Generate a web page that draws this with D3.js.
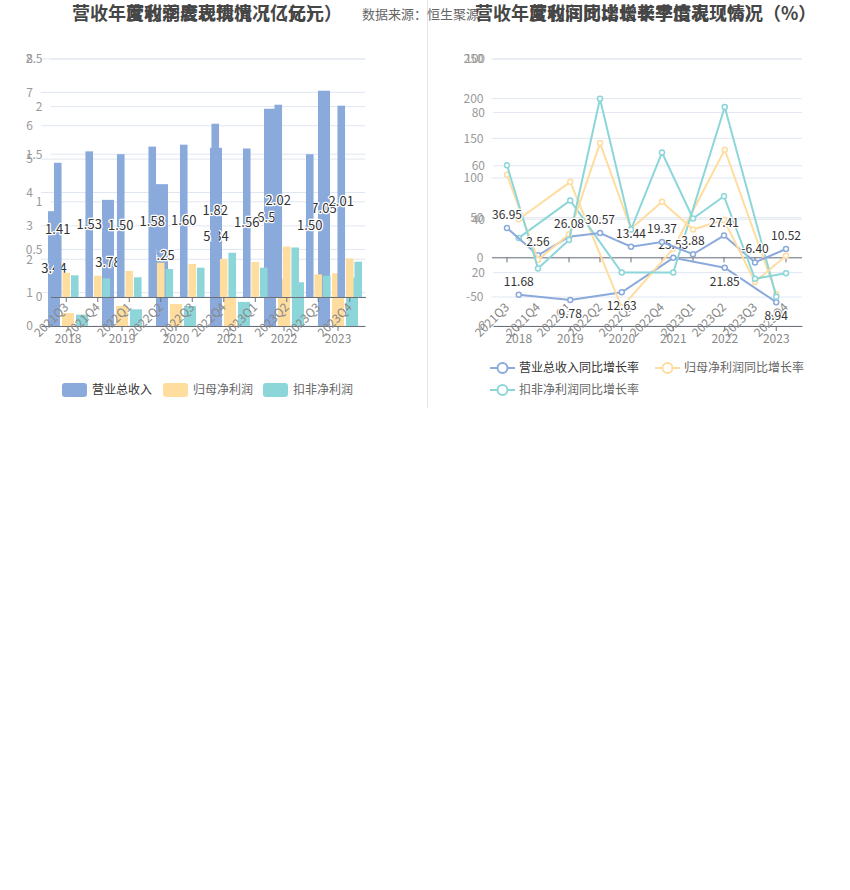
<!DOCTYPE html>
<html><head><meta charset="utf-8">
<script src="https://cdn.jsdelivr.net/npm/d3@7"></script>
<style>
body{margin:0;background:#fff}
svg{display:block}
text{font-family:"Noto Sans CJK SC","Noto Sans",sans-serif}
</style>
</head><body>
<svg id="chart" width="850" height="890"></svg>
<script>
// ---------------- data ----------------
const years = ["2018","2019","2020","2021","2022","2023"];
const quarters = ["2021Q3","2021Q4","2022Q1","2022Q2","2022Q3","2022Q4","2023Q1","2023Q2","2023Q3","2023Q4"];

const annualRevenue   = [3.44, 3.78, 4.25, 5.34, 6.51, 7.05];
const annualNetProfit = [0.39, 0.60, 0.66, 0.85, 1.41, 1.58];
const annualDeducted  = [0.34, 0.50, 0.60, 0.72, 1.31, 1.45];

const quarterRevenue   = [1.41, 1.53, 1.50, 1.58, 1.60, 1.82, 1.56, 2.02, 1.50, 2.01];
const quarterNetProfit = [0.255, 0.224, 0.273, 0.36, 0.347, 0.40, 0.368, 0.53, 0.238, 0.406];
const quarterDeducted  = [0.228, 0.196, 0.207, 0.294, 0.308, 0.465, 0.308, 0.52, 0.224, 0.371];

const annualRevenueYoY   = [11.68, 9.78, 12.63, 25.53, 21.85, 8.94];
const annualNetProfitYoY = [40, 54, 7, 29, 66, 12];
const annualDeductedYoY  = [33, 47, 20, 20, 82, 11];

const quarterRevenueYoY   = [36.95, 2.56, 26.08, 30.57, 13.44, 19.37, 3.88, 27.41, -6.40, 10.52];
const quarterNetProfitYoY = [104, -3, 29, 144, 36, 70, 35, 47, -31, 2];
const quarterDeductedYoY  = [116, -14, 22, 200, 35, 132, 49, 77, -27, -20];

const annualAmountTicks  = [0, 1, 2, 3, 4, 5, 6, 7, 8];
const quarterAmountTicks = [0, 0.5, 1, 1.5, 2, 2.5];
const annualRateTicks    = [0, 20, 40, 60, 80, 100];
const quarterRateTicks   = [-50, 0, 50, 100, 150, 200, 250];

const amountNames = ["营业总收入", "归母净利润", "扣非净利润"];
const rateNames   = ["营业总收入同比增长率", "归母净利润同比增长率", "扣非净利润同比增长率"];

const titleLeftAnnual   = "营收年度利润表现情况（亿元）";
const titleLeftQuarter  = "营收季度表现情况（亿元）";
const titleRightAnnual  = "营收年度利润同比增长率情况（%）";
const titleRightQuarter = "营收同比增长率季度表现情况（%）";
const sourceText = "数据来源：恒生聚源";

// ---------------- style / layout ----------------
const COLORS = ["#8baadc", "#fedd9f", "#8cd6d9"];
const GRID = "#e0e6f1";
const AXIS = "#6e7079";
const LABEL = "#999";
const FONT = '"Noto Sans CJK SC","Noto Sans",sans-serif';
// label placement of the annual revenue growth line (above / below point)
const annualLabelSide = ["top", "bottom", "bottom", "top", "bottom", "bottom"];

const svg = d3.select("#chart");

// ---------------- helpers ----------------
function yAxis(xPos, scale, ticks, gx0, gx1) {
  svg.append("g").selectAll("line").data(ticks).join("line")
    .attr("x1", gx0).attr("x2", gx1)
    .attr("y1", d => scale(d)).attr("y2", d => scale(d))
    .attr("stroke", GRID).attr("stroke-width", 1);
  const g = svg.append("g").attr("transform", `translate(${xPos},0)`)
    .call(d3.axisLeft(scale).tickValues(ticks).tickSize(0).tickPadding(0).tickFormat(d => String(d)));
  g.select(".domain").remove();
  g.attr("font-family", FONT).attr("font-size", 12);
  g.selectAll("text").attr("fill", LABEL);
}

function xAxisFlat(yPos, band) {
  const g = svg.append("g").attr("transform", `translate(0,${yPos})`)
    .call(d3.axisBottom(band).tickSize(5).tickPadding(3).tickSizeOuter(0));
  g.attr("font-family", FONT).attr("font-size", 12);
  g.select(".domain").attr("stroke", AXIS);
  g.selectAll(".tick line").attr("stroke", AXIS);
  g.selectAll("text").attr("fill", "#888");
}

function xAxisRotated(lineY, labelY, band) {
  const g = svg.append("g").attr("transform", `translate(0,${lineY})`)
    .call(d3.axisBottom(band).tickSize(5).tickSizeOuter(0));
  g.attr("font-family", FONT).attr("font-size", 12);
  g.select(".domain").attr("stroke", AXIS);
  g.selectAll(".tick line").attr("stroke", AXIS);
  g.selectAll("text")
    .attr("fill", "#888")
    .attr("y", null).attr("dy", "0.35em")
    .attr("text-anchor", "end")
    .attr("transform", `translate(0,${labelY - lineY}) rotate(-45)`);
}

function center(band, c) { return band(c) + band.bandwidth() / 2; }

function bars(band, yScale, cats, seriesList, w, gap, baseY) {
  seriesList.forEach((vals, i) => {
    svg.append("g").selectAll("rect").data(cats).join("rect")
      .attr("x", (c) => center(band, c) + (i - 1) * (w + gap) - w / 2)
      .attr("width", w)
      .attr("y", (c, j) => yScale(vals[j]))
      .attr("height", (c, j) => baseY - yScale(vals[j]))
      .attr("fill", COLORS[i]);
  });
}

function barLabels(band, yScale, cats, vals, w, gap) {
  svg.append("g").selectAll("text").data(cats).join("text")
    .attr("x", c => center(band, c) - (w + gap))
    .attr("y", (c, j) => yScale(vals[j] / 2))
    .attr("dy", "0.35em")
    .attr("text-anchor", "middle")
    .attr("font-size", 13)
    .attr("fill", "#333")
    .attr("stroke", "#fff").attr("stroke-width", 2.5)
    .attr("paint-order", "stroke")
    .attr("stroke-linejoin", "round")
    .text((c, j) => vals[j].toFixed(2));
}

function lines(band, yScale, cats, seriesList, sides) {
  seriesList.forEach((vals, i) => {
    const pts = cats.map((c, j) => [center(band, c), yScale(vals[j])]);
    svg.append("path").attr("d", d3.line()(pts))
      .attr("fill", "none").attr("stroke", COLORS[i]).attr("stroke-width", 2);
    svg.append("g").selectAll("circle").data(pts).join("circle")
      .attr("cx", d => d[0]).attr("cy", d => d[1]).attr("r", 2.5)
      .attr("fill", "#fff").attr("stroke", COLORS[i]).attr("stroke-width", 1.5);
  });
  const vals = seriesList[0];
  svg.append("g").selectAll("text").data(cats).join("text")
    .attr("x", c => center(band, c))
    .attr("y", (c, j) => (sides && sides[j] === "bottom")
      ? yScale(vals[j]) + 18 : yScale(vals[j]) - 9)
    .attr("text-anchor", "middle")
    .attr("font-size", 12)
    .attr("fill", "#333")
    .attr("stroke", "#fff").attr("stroke-width", 2.5)
    .attr("paint-order", "stroke")
    .text((c, j) => vals[j].toFixed(2));
}

// ---------------- LEFT PANEL ----------------
const L_ann = { x0: 41, x1: 365, top: 59, bottom: 326 };
const L_q   = { x0: 50.5, x1: 365.5, top: 59, bottom: 297 };

const xYearL = d3.scaleBand().domain(years).range([L_ann.x0, L_ann.x1]);
const yAmtA  = d3.scaleLinear().domain([0, 8]).range([L_ann.bottom, L_ann.top]);
const xQL    = d3.scaleBand().domain(quarters).range([L_q.x0, L_q.x1]);
const yAmtQ  = d3.scaleLinear().domain([0, 2.5]).range([L_q.bottom, L_q.top]);

yAxis(L_ann.x0 - 8, yAmtA, annualAmountTicks, L_ann.x0, L_ann.x1);
yAxis(L_q.x0 - 8, yAmtQ, quarterAmountTicks, L_q.x0, L_q.x1);

// annual chart (below)
bars(xYearL, yAmtA, years, [annualRevenue, annualNetProfit, annualDeducted], 12, 2, L_ann.bottom);
barLabels(xYearL, yAmtA, years, annualRevenue, 12, 2);
xAxisFlat(L_ann.bottom, xYearL);

// quarterly chart (above)
bars(xQL, yAmtQ, quarters, [quarterRevenue, quarterNetProfit, quarterDeducted], 7.6, 0.9, L_q.bottom);
barLabels(xQL, yAmtQ, quarters, quarterRevenue, 7.6, 0.9);
xAxisRotated(L_q.bottom, L_q.bottom + 8, xQL);

// ---------------- RIGHT PANEL ----------------
const R_ann = { x0: 493, x1: 802, top: 59, bottom: 326 };
const R_q   = { x0: 491.5, x1: 801.5, top: 59, bottom: 297 };

const xYearR = d3.scaleBand().domain(years).range([R_ann.x0, R_ann.x1]);
const yRateA = d3.scaleLinear().domain([0, 100]).range([R_ann.bottom, R_ann.top]);
const xQR    = d3.scaleBand().domain(quarters).range([R_q.x0, R_q.x1]);
const yRateQ = d3.scaleLinear().domain([-50, 250]).range([R_q.bottom, R_q.top]);

yAxis(R_ann.x0 - 8, yRateA, annualRateTicks, R_ann.x0, R_ann.x1);
yAxis(R_q.x0 - 8, yRateQ, quarterRateTicks, R_q.x0, R_q.x1);

xAxisFlat(R_ann.bottom, xYearR);
xAxisRotated(yRateQ(0), R_q.bottom + 8, xQR);

lines(xYearR, yRateA, years, [annualRevenueYoY, annualNetProfitYoY, annualDeductedYoY], annualLabelSide);
lines(xQR, yRateQ, quarters, [quarterRevenueYoY, quarterNetProfitYoY, quarterDeductedYoY], null);

// ---------------- legends ----------------
const legL = [62, 163, 263];
amountNames.forEach((n, i) => {
  svg.append("rect").attr("x", legL[i]).attr("y", 383).attr("width", 25).attr("height", 14)
    .attr("rx", 3).attr("fill", COLORS[i]);
  svg.append("text").attr("x", legL[i] + 30).attr("y", 390).attr("dy", "0.35em")
    .attr("font-size", 12).attr("fill", i === 0 ? "#333" : "#666").text(n);
});
const legR = [[490, 368], [655, 368], [490, 390]];
rateNames.forEach((n, i) => {
  const [x, y] = legR[i];
  svg.append("line").attr("x1", x).attr("x2", x + 25).attr("y1", y).attr("y2", y)
    .attr("stroke", COLORS[i]).attr("stroke-width", 2);
  svg.append("circle").attr("cx", x + 12.5).attr("cy", y).attr("r", 5)
    .attr("fill", "#fff").attr("stroke", COLORS[i]).attr("stroke-width", 2);
  svg.append("text").attr("x", x + 29).attr("y", y).attr("dy", "0.35em")
    .attr("font-size", 12).attr("fill", i === 0 ? "#333" : "#666").text(n);
});

// ---------------- divider, source, titles ----------------
svg.append("line").attr("x1", 427.5).attr("x2", 427.5).attr("y1", 0).attr("y2", 408)
  .attr("stroke", "#e6e6e6");
svg.append("text").attr("x", 362).attr("y", 14).attr("dy", "0.35em")
  .attr("font-size", 13).attr("fill", "#666").text(sourceText);

function title(x, t) {
  svg.append("text").attr("x", x).attr("y", 14).attr("dy", "0.35em")
    .attr("font-size", 18).attr("font-weight", "bold").attr("fill", "#464646").text(t);
}
title(72, titleLeftAnnual);
title(126, titleLeftQuarter);
title(475, titleRightAnnual);
title(529, titleRightQuarter);
</script>
</body></html>
